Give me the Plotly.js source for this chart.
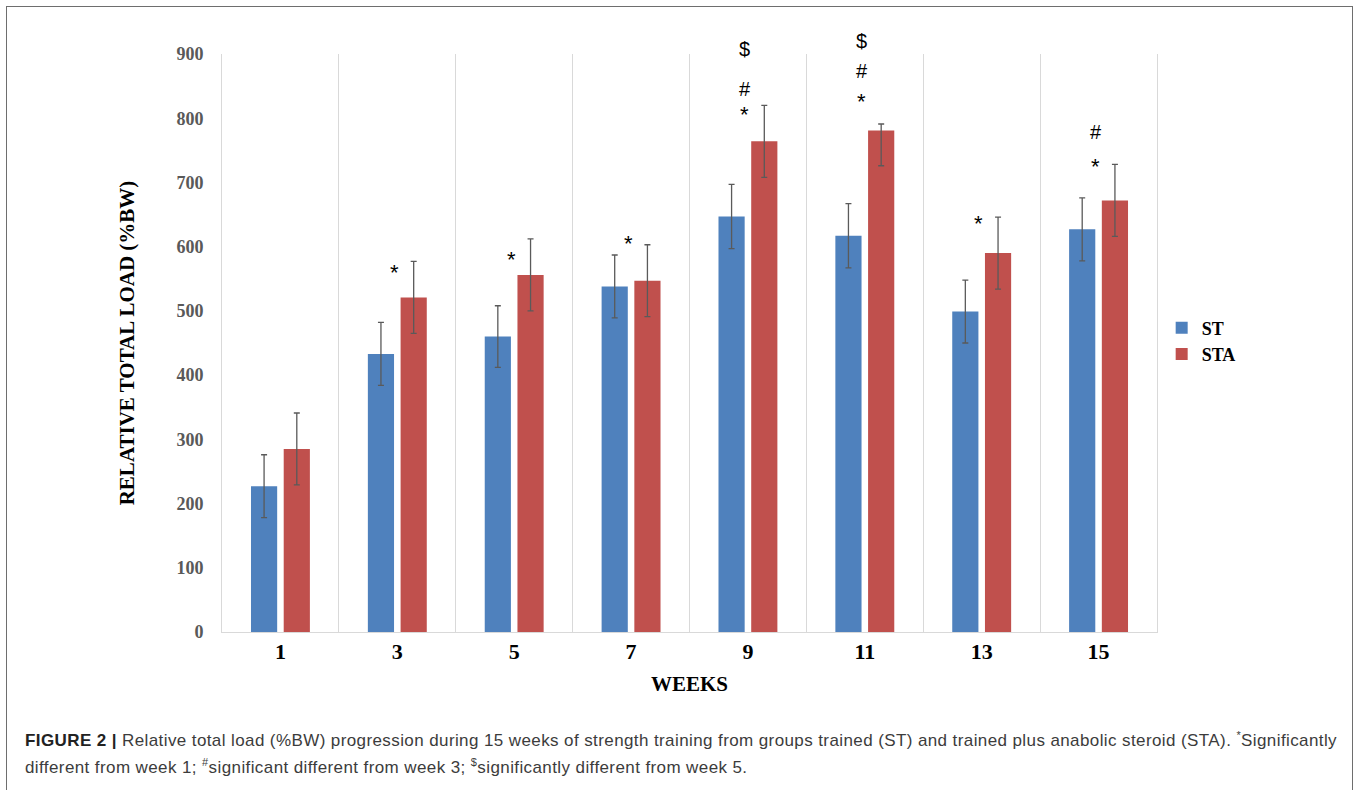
<!DOCTYPE html>
<html><head><meta charset="utf-8">
<script src="https://cdn.plot.ly/plotly-3.0.1.min.js"></script>
<style>
html,body{margin:0;padding:0;background:#fff;}
#wrap{position:relative;width:1356px;height:790px;overflow:hidden;background:#fff;}
#chart{position:absolute;left:0;top:0;width:1356px;height:790px;}
#frame{position:absolute;left:6px;top:6px;width:1347px;height:820px;border:1.5px solid #6e6e6e;box-sizing:border-box;pointer-events:none;}
#caption{position:absolute;left:25px;top:727px;font-family:"Liberation Sans",Arial,sans-serif;font-size:17px;letter-spacing:0.4px;line-height:27px;color:#3c3c3c;white-space:nowrap;}
#caption b{color:#222;}
#caption sup{font-size:11px;line-height:0;}
</style></head>
<body>
<div id="wrap">
<div id="chart"></div>
<div id="frame"></div>
<div id="caption"><b>FIGURE 2 |</b> Relative total load (%BW) progression during 15 weeks of strength training from groups trained (ST) and trained plus anabolic steroid (STA). <sup>*</sup>Significantly<br>different from week 1; <sup>#</sup>significant different from week 3; <sup>$</sup>significantly different from week 5.</div>
</div>
<script>
// ---- data ----
const weeks = ['1','3','5','7','9','11','13','15'];
const stMean = [227, 433, 460, 538, 647, 617, 499, 627];
const stErr = [49, 49, 48, 49, 50, 50, 49, 49];
const staMean = [285, 521, 556, 547, 764, 781, 590, 672];
const staErrPlus = [56, 56, 56, 56, 56, 10, 56, 56];
const staErrMinus = [56, 56, 56, 56, 56, 55, 56, 56];
const seriesNames = ['ST', 'STA'];
// significance marks: week, symbol, level (value units)
const markWeeks = ['3','5','7','9','9','9','11','11','11','13','15','15'];
const markText  = ['*','*','*','*','#','$','*','#','$','*','*','#'];
const markLevel = [564, 585, 609, 811, 847, 909, 830, 875, 922, 640, 730, 780];
const yMax = 900;
const yTicks = [0,100,200,300,400,500,600,700,800,900];

const serif = '"Liberation Serif","Times New Roman",serif';
const errStyle = {color:'#5a5a5a', thickness:1.3, width:3};

const traces = [
  {type:'bar', name:seriesNames[0], x:weeks, y:stMean,
   marker:{color:'#4F81BD'},
   error_y:Object.assign({type:'data', array:stErr, visible:true}, errStyle)},
  {type:'bar', name:seriesNames[1], x:weeks, y:staMean,
   marker:{color:'#C0504D'},
   error_y:Object.assign({type:'data', symmetric:false, array:staErrPlus, arrayminus:staErrMinus, visible:true}, errStyle)}
];

// '$' alone could be read as a math delimiter, so use its entity.
// Marks above the axis range are placed on the paper scale (range starts at 0, domain is [0,1]).
const shownText = t => t === '$' ? '&#36;' : t;
const annotations = markWeeks.map((w,i)=>({
  x:weeks.indexOf(w), y:markLevel[i] / yMax, xref:'x', yref:'paper', yanchor:'middle', xanchor:'center',
  text:shownText(markText[i]), showarrow:false,
  xshift:-3, yshift: markText[i]==='*' ? -3 : -1,
  font:{family:'"Liberation Sans",Arial,sans-serif', size: markText[i]==='*' ? 22 : 20, color:'#000'}
}));

const layout = {
  width:1356, height:790,
  margin:{l:222, r:199, t:54, b:158},
  paper_bgcolor:'rgba(0,0,0,0)', plot_bgcolor:'rgba(0,0,0,0)',
  barmode:'group', bargap:0.44, bargroupgap:0.2,
  showlegend:true,
  xaxis:{type:'category', range:[-0.5, 7.5], tickson:'boundaries', showgrid:true, gridcolor:'#d9d9d9', gridwidth:1,
    showline:true, linecolor:'#d9d9d9', linewidth:1, ticks:'', automargin:false,
    tickfont:{family:serif, size:22, color:'#000', weight:'bold'},
    title:{text:'WEEKS', font:{family:serif, size:21, color:'#000', weight:'bold'}, standoff:12}},
  yaxis:{range:[0,yMax], tickvals:yTicks, showgrid:false, zeroline:false,
    showline:true, mirror:true, linecolor:'#d9d9d9', linewidth:1, ticks:'', automargin:false,
    ticklabelstandoff:14,
    tickfont:{family:serif, size:18, color:'#595959', weight:'bold'},
    title:{text:'RELATIVE TOTAL LOAD (%BW)', font:{family:serif, size:21, color:'#000', weight:'bold'}, standoff:36}},
  legend:{x:1.005, y:0.558, xanchor:'left', yanchor:'top', bgcolor:'rgba(0,0,0,0)',
    font:{family:serif, size:18, color:'#000', weight:'bold'}},
  annotations:annotations
};

Plotly.newPlot('chart', traces, layout, {displayModeBar:false, staticPlot:true});
</script>
</body></html>
